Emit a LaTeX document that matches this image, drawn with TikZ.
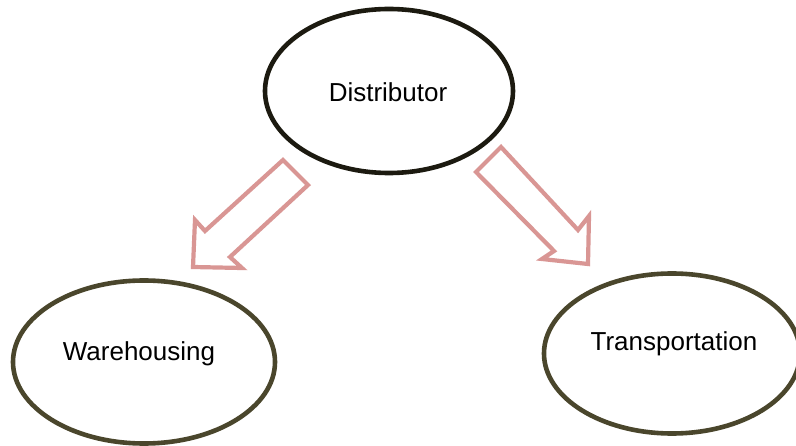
\documentclass[tikz,border=0pt]{standalone}
\usepackage{fontspec}
\setmainfont{Liberation Sans}
\usetikzlibrary{shapes.geometric}
\definecolor{arrowpink}{RGB}{217,150,148}
\definecolor{darkline}{RGB}{28,26,16}
\definecolor{oliveline}{RGB}{74,70,44}
\tikzset{
  ell/.style={ellipse, draw, line width=4.6pt, fill=white, inner sep=0pt},
  lbl/.style={anchor=base, inner sep=0pt, font=\fontsize{26}{30}\selectfont},
  blockarrow/.style={draw=arrowpink, line width=4.2pt, fill=white, line join=miter}
}
\begin{document}
\begin{tikzpicture}[x=1pt,y=-1pt]
\useasboundingbox (0,0) rectangle (796,446);
\clip (0,0) rectangle (796,446);
\fill[white] (0,0) rectangle (796,446);
% ellipses
\node[ell, draw=darkline, minimum width=248pt, minimum height=164pt] (dist) at (389,91) {};
\node[ell, draw=oliveline, minimum width=262pt, minimum height=163pt] (ware) at (144,362) {};
\node[ell, draw=oliveline, minimum width=256pt, minimum height=160pt] (trans) at (672,353.5) {};
% labels
\node[lbl] (distl) at (388,101.7) {Distributor};
\node[lbl] (warel) at (139,360.7) {Warehousing};
\node[lbl] (transl) at (674,350.7) {Transportation};
% block arrows
\draw[blockarrow] (283,160) -- (308,185) -- (230,257) -- (242,268) -- (193,267) -- (195,220) -- (205,231) -- cycle;
\draw[blockarrow] (501,147) -- (578,230) -- (589,216) -- (588,264) -- (542,259) -- (554,251) -- (476,172) -- cycle;
\end{tikzpicture}
\end{document}
